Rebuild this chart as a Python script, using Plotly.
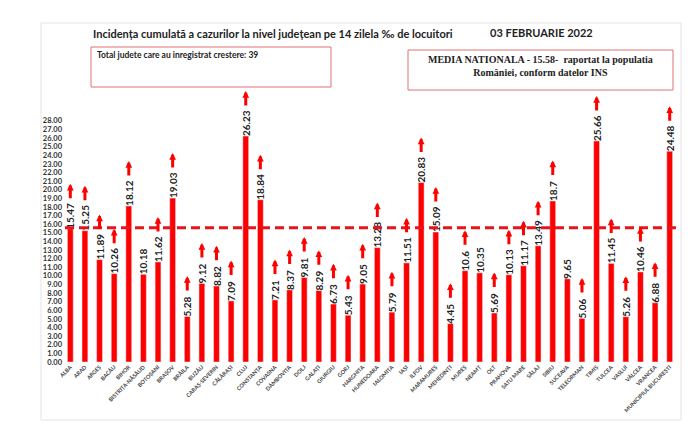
import plotly.graph_objects as go

counties = ["ALBA", "ARAD", "ARGEȘ", "BACĂU", "BIHOR", "BISTRIȚA-NĂSĂUD", "BOTOȘANI", "BRAȘOV",
            "BRĂILA", "BUZĂU", "CARAȘ-SEVERIN", "CĂLĂRAȘI", "CLUJ", "CONSTANȚA", "COVASNA",
            "DÂMBOVIȚA", "DOLJ", "GALAȚI", "GIURGIU", "GORJ", "HARGHITA", "HUNEDOARA", "IALOMIȚA",
            "IAȘI", "ILFOV", "MARAMUREȘ", "MEHEDINȚI", "MUREȘ", "NEAMȚ", "OLT", "PRAHOVA",
            "SATU MARE", "SĂLAJ", "SIBIU", "SUCEAVA", "TELEORMAN", "TIMIȘ", "TULCEA", "VASLUI",
            "VÂLCEA", "VRANCEA", "MUNICIPIUL BUCUREȘTI"]
incidence = [15.47, 15.25, 11.89, 10.26, 18.12, 10.18, 11.62, 19.03, 5.28, 9.12, 8.82, 7.09,
             26.23, 18.84, 7.21, 8.37, 9.81, 8.29, 6.73, 5.43, 9.05, 13.28, 5.79, 11.51, 20.83,
             15.09, 4.45, 10.6, 10.35, 5.69, 10.13, 11.17, 13.49, 18.7, 9.65, 5.06, 25.66, 11.45,
             5.26, 10.46, 6.88, 24.48]
increasing = [True, True, True, True, True, False, True, True, True, True, True, True,
              True, True, True, True, True, True, True, True, True, True, True, True, True,
              True, True, True, False, True, True, True, True, True, False, True, True, True,
              True, True, True, True]
national_avg = 15.58
y_ticks = list(range(0, 29))

W, H = 700, 435
ML, MR, MT, MB = 55, 31, 87, 81
PW, PH = W - ML - MR, H - MT - MB


def px(x, y):
    return (x - ML) / PW, (H - MB - y) / PH


RED = "#FF0000"
labels = [f"{v:g}" for v in incidence]

fig = go.Figure()
fig.add_trace(go.Bar(
    x=counties, y=incidence, marker_color=RED, text=labels,
    textposition="outside", textangle=-90, cliponaxis=False, constraintext="none",
    textfont=dict(family="Lato", size=10, color="#222222", weight="bold"),
    hoverinfo="skip",
))

annotations = []
for c, v, lab, inc in zip(counties, incidence, labels, increasing):
    if not inc:
        continue
    shift = 22 + 4.6 * len(lab)
    annotations.append(dict(
        x=c, y=v, xref="x", yref="y", text="", showarrow=True,
        ax=0, ay=16, axref="pixel", ayref="pixel", yshift=shift,
        arrowhead=2, arrowsize=0.45, arrowwidth=3, arrowcolor=RED,
    ))

# titles / boxes
x0, y0 = px(83, 25)
annotations.append(dict(xref="paper", yref="paper", x=x0, y=y0, xanchor="left", yanchor="middle",
                        showarrow=False,
                        text="Incidența cumulată a cazurilor la nivel județean pe 14 zilela ‰ de locuitori",
                        font=dict(family="Lato", size=11, color="#222222", weight="bold")))
x0, y0 = px(480, 24)
annotations.append(dict(xref="paper", yref="paper", x=x0, y=y0, xanchor="left", yanchor="middle",
                        showarrow=False, text="03 FEBRUARIE 2022",
                        font=dict(family="Lato", size=11, color="#222222", weight="bold")))
x0, y0 = px(87, 47)
annotations.append(dict(xref="paper", yref="paper", x=x0, y=y0, xanchor="left", yanchor="middle",
                        showarrow=False, text="Total judete care au inregistrat crestere: 39",
                        font=dict(family="Lato", size=8.5, color="#222222", weight="bold")))
x0, y0 = px(532, 57.5)
annotations.append(dict(xref="paper", yref="paper", x=x0, y=y0, xanchor="center", yanchor="middle",
                        showarrow=False,
                        text="MEDIA NATIONALA - 15.58-  raportat la populatia<br>României, conform datelor INS",
                        font=dict(family="Liberation Serif", size=10, color="#222222", weight="bold")))

shapes = []
bx0, by0 = px(33, 15)
bx1, by1 = px(673, 412)
shapes.append(dict(type="rect", xref="paper", yref="paper", x0=bx0, y0=by0, x1=bx1, y1=by1,
                   line=dict(color="#e4e4e4", width=1), layer="below"))
for (a, b, c, d) in [(83, 39, 323, 79), (400, 42, 665, 82)]:
    rx0, ry0 = px(a, b)
    rx1, ry1 = px(c, d)
    shapes.append(dict(type="rect", xref="paper", yref="paper", x0=rx0, y0=ry0, x1=rx1, y1=ry1,
                       line=dict(color="#e07070", width=1)))
lx0, _ = px(57, 0)
lx1, _ = px(668, 0)
shapes.append(dict(type="line", xref="paper", yref="y", x0=lx0, x1=lx1, y0=national_avg,
                   y1=national_avg, line=dict(color="#E8141C", width=3, dash="9px,5px"), layer="above"))

fig.update_layout(
    width=W, height=H, margin=dict(l=ML, r=MR, t=MT, b=MB),
    paper_bgcolor="white", plot_bgcolor="white", showlegend=False,
    bargap=0.6,
    annotations=annotations, shapes=shapes,
    xaxis=dict(tickangle=-45, showgrid=False, showline=False, ticks="",
               tickfont=dict(family="Lato", size=5.5, color="#444444", weight="bold"),
               range=[-0.5, len(counties) - 0.5]),
    yaxis=dict(range=[0, 31], tickvals=y_ticks, ticktext=[f"{t:.2f}" for t in y_ticks],
               showgrid=False, zeroline=False, showline=False, ticks="",
               tickfont=dict(family="Lato", size=7.5, color="#333333", weight="bold")),
)

fig.write_html("out.html")
